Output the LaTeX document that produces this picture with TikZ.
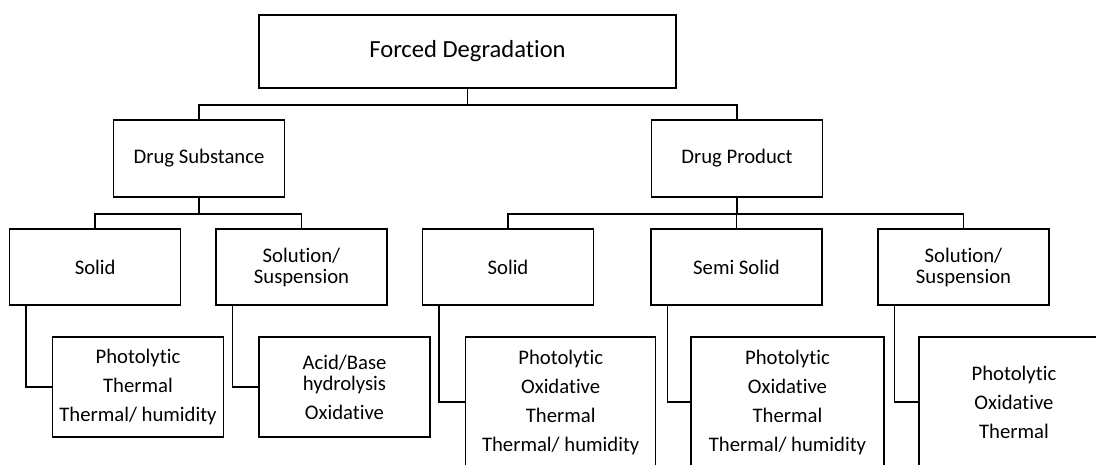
\documentclass[tikz,border=0pt]{standalone}
\usepackage{fontspec}
\setmainfont{Carlito}[Ligatures=NoCommon]
\usepackage{tikz}
\usetikzlibrary{calc}

\begin{document}
\begin{tikzpicture}[x=1pt, y=-1pt]
        % ================= 样式定义 =================
        \tikzset{
            % 方框节点:白底黑边
            box/.style={rectangle, draw=black, line width=1.5pt, fill=white, inner sep=2pt, align=center,
                        font=\fontsize{20.7}{21}\selectfont},
            % 各层尺寸
            topbox/.style={box, minimum width=417pt, minimum height=73pt, font=\fontsize{24.6}{26}\selectfont},
            midbox/.style={box, minimum width=171pt, minimum height=77pt},
            lowbox/.style={box, minimum width=171pt, minimum height=76pt},
            listbox/.style={box, font=\fontsize{20.7}{29}\selectfont},
            % 连线
            edge/.style={line width=1.5pt, black}
        }

        % 画布范围 (右侧和底部被裁掉)
        \useasboundingbox (0,0) rectangle (1096,464);
        \clip (0,0) rectangle (1096,464);

        % ================= 第一、二层 =================
        \node[topbox] (fd) at (467.5,51.5) {Forced Degradation};
        \node[midbox] (ds) at (199,158.5) {Drug Substance};
        \node[midbox] (dp) at (737,158.5) {Drug Product};

        % ================= 第三层 =================
        \node[lowbox] (dsSolid) at (95.2,267) {Solid};
        \node[lowbox] (dsSol)   at (301.5,267) {Solution/\\Suspension};
        \node[lowbox] (dpSolid) at (508,267) {Solid};
        \node[lowbox] (dpSemi)  at (736.5,267) {Semi Solid};
        \node[lowbox] (dpSol)   at (963.5,267) {Solution/\\Suspension};

        % ================= 第四层:降解条件 =================
        \node[listbox, minimum width=171pt, minimum height=100pt] (dsSolidList) at (138,387)
            {Photolytic\\Thermal\\Thermal/ humidity};
        \node[box, minimum width=171pt, minimum height=100pt] (dsSolList) at (344.5,387)
            {Acid/Base\\hydrolysis\\[8pt]Oxidative};
        \node[listbox, minimum width=190pt, minimum height=130pt] (dpSolidList) at (560.7,402)
            {Photolytic\\Oxidative\\Thermal\\Thermal/ humidity};
        \node[listbox, minimum width=193pt, minimum height=130pt] (dpSemiList) at (787.5,402)
            {Photolytic\\Oxidative\\Thermal\\Thermal/ humidity};
        \node[listbox, minimum width=190pt, minimum height=130pt] (dpSolList) at (1014,402)
            {Photolytic\\Oxidative\\Thermal};

        % ================= 树形连线 =================
        \foreach \child in {ds, dp}
            \draw[edge] (fd.south) -- ++(0,16) -| (\child.north);
        \foreach \child in {dsSolid, dsSol}
            \draw[edge] (ds.south) -- ++(0,16) -| (\child.north);
        \foreach \child in {dpSolid, dpSemi, dpSol}
            \draw[edge] (dp.south) -- ++(0,16) -| (\child.north);

        % 折线:父框左下 -> 列表框左侧
        \foreach \parent/\list in {dsSolid/dsSolidList, dsSol/dsSolList, dpSolid/dpSolidList,
                                   dpSemi/dpSemiList, dpSol/dpSolList}
            \draw[edge] ([xshift=17pt]\parent.south west) |- (\list.west);

    \end{tikzpicture}
\end{document}
